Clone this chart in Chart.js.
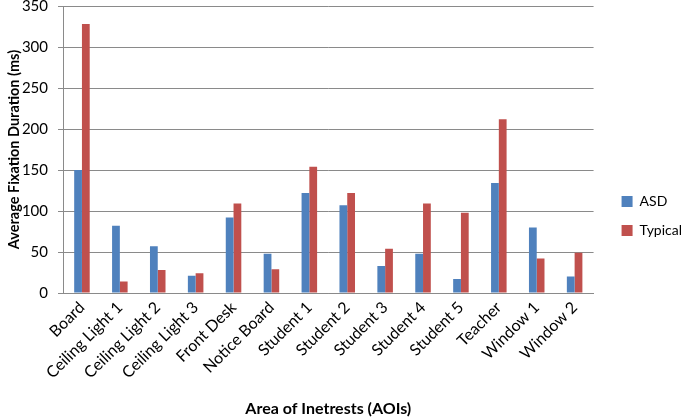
<!DOCTYPE html>
<html>
<head>
<meta charset="utf-8">
<script src="https://cdn.jsdelivr.net/npm/chart.js@4"></script>
<style>
  html, body { margin: 0; padding: 0; background: #fff; }
  #wrap { width: 685px; height: 418px; position: relative; }
</style>
</head>
<body>
<div id="wrap"><canvas id="fixChart" width="685" height="418"></canvas></div>
<script>
const categories = ["Board", "Ceiling Light 1", "Ceiling Light 2", "Ceiling Light 3", "Front Desk",
  "Notice Board", "Student 1", "Student 2", "Student 3", "Student 4", "Student 5",
  "Teacher", "Window 1", "Window 2"];
const asdValues = [150, 82, 57, 21, 92, 48, 122, 107, 33, 48, 17, 134, 80, 20];
const typicalValues = [328, 14, 28, 24, 109, 29, 154, 122, 54, 109, 98, 212, 42, 49];
const yTicks = [0, 50, 100, 150, 200, 250, 300, 350];

const fontFamily = "Lato, 'Open Sans', sans-serif";
const gridGray = "#8a8a8a";

// push the legend a bit away from the plot, like the Excel original
const legendNudge = {
  id: "legendNudge",
  afterLayout(chart) {
    chart.legend.left += 13;
    chart.legend.right += 13;
    chart.legend.top += 4;
    chart.legend.bottom += 4;
  },
};

const ctx = document.getElementById("fixChart").getContext("2d");

new Chart(ctx, {
  type: "bar",
  data: {
    labels: categories,
    datasets: [
      {
        label: "ASD",
        data: asdValues,
        backgroundColor: "#4F81BD",
        categoryPercentage: 0.41,
        barPercentage: 1.0,
      },
      {
        label: "Typical",
        data: typicalValues,
        backgroundColor: "#C0504D",
        categoryPercentage: 0.41,
        barPercentage: 1.0,
      },
    ],
  },
  plugins: [legendNudge],
  options: {
    responsive: false,
    animation: false,
    layout: { padding: { top: 6, right: 6, left: 0, bottom: 0 } },
    plugins: {
      tooltip: { enabled: false },
      legend: {
        position: "right",
        labels: {
          boxWidth: 11,
          boxHeight: 11,
          padding: 15,
          color: "#000",
          font: { family: fontFamily, size: 14 },
        },
      },
    },
    scales: {
      x: {
        afterFit: (axis) => { axis.height = 125; },
        grid: { display: false, drawTicks: false },
        border: { color: gridGray },
        ticks: {
          color: "#000",
          minRotation: 45,
          maxRotation: 45,
          padding: 5,
          font: { family: fontFamily, size: 16 },
        },
        title: {
          display: true,
          text: "Area of Inetrests (AOIs)",
          color: "#000",
          padding: { top: 0, bottom: 0 },
          font: { family: fontFamily, size: 16, weight: "bold" },
        },
      },
      y: {
        min: 0,
        max: 350,
        afterFit: (axis) => {
          axis.width = 63;
          axis.paddingTop = 0;
          axis.paddingBottom = 0;
        },
        afterBuildTicks: (axis) => {
          axis.ticks = yTicks.map((v) => ({ value: v }));
        },
        grid: { color: gridGray, tickLength: 5 },
        border: { color: gridGray },
        ticks: {
          color: "#000",
          padding: 10,
          font: { family: fontFamily, size: 15 },
        },
        title: {
          display: true,
          text: "Average Fixation Duration (ms)",
          color: "#000",
          padding: { top: 6, bottom: 4 },
          font: { family: fontFamily, size: 14.5, weight: "bold" },
        },
      },
    },
  },
});
</script>
</body>
</html>
